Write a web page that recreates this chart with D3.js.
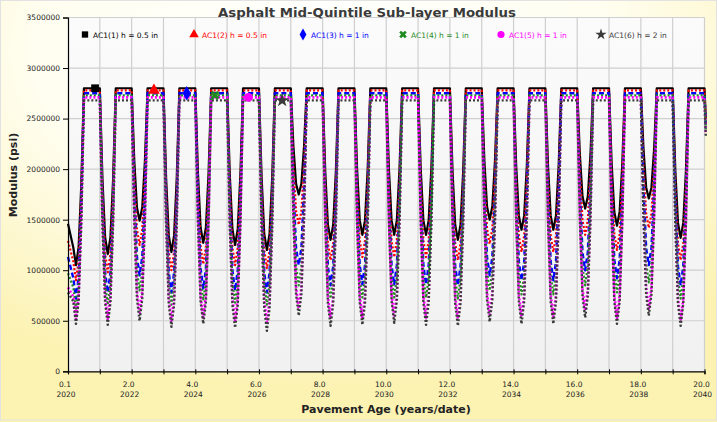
<!DOCTYPE html>
<html><head><meta charset="utf-8">
<script src="https://cdn.jsdelivr.net/npm/d3@7"></script>
<style>html,body{margin:0;padding:0;background:#fff}svg{display:block}</style>
</head><body>
<svg id="chart" width="717" height="422"></svg>
<script>
// ---------------- data ----------------
const chartTitle = "Asphalt Mid-Quintile Sub-layer Modulus";
const xTitle = "Pavement Age (years/date)";
const yTitle = "Modulus (psi)";
const seriesNames = ["AC1(1) h = 0.5  in", "AC1(2) h = 0.5  in", "AC1(3) h = 1  in", "AC1(4) h = 1  in", "AC1(5) h = 1  in", "AC1(6) h = 2  in"];
// value at first record, winter plateau, value at last record
const startValues = [1460000, 1290000, 1130000, 970000, 830000, 780000];
const capValues   = [2800000, 2780000, 2750000, 2730000, 2710000, 2680000];
const endValues   = [2500000, 2450000, 2400000, 2380000, 2350000, 2330000];
// summer trough of each year (years 0..19)
const troughAC1_1 = [1050000,1160000,1490000,1180000,1270000,1250000,1200000,1750000,1300000,1350000,1350000,1350000,1300000,1500000,1400000,1400000,1610000,1440000,1710000,1320000];
const troughAC1_2 = [900000,980000,1250000,1000000,1060000,1050000,1020000,1450000,1100000,1130000,1130000,1130000,1100000,1260000,1180000,1180000,1350000,1200000,1420000,1100000];
const troughAC1_3 = [720000,780000,950000,780000,820000,800000,780000,1050000,850000,860000,860000,860000,850000,950000,900000,900000,1000000,920000,1050000,850000];
const troughAC1_4 = [620000,660000,800000,660000,700000,680000,660000,850000,720000,730000,730000,730000,720000,800000,760000,760000,850000,780000,880000,720000];
const troughAC1_5 = [520000,520000,580000,500000,530000,500000,480000,620000,520000,530000,550000,530000,520000,560000,540000,540000,600000,530000,620000,500000];
const troughAC1_6 = [470000,460000,500000,440000,470000,430000,400000,550000,450000,460000,480000,460000,450000,490000,470000,470000,530000,470000,550000,450000];
// monthly position inside each summer dip (fraction of the way from plateau to trough)
const dipMonths = [0, 1, 2, 3, 4, 5, 6];
const dipDepth  = [0, 0.55, 0.9, 1, 0.9, 0.55, 0];
const markerAges = [0.85, 2.7, 3.73, 4.62, 5.67, 6.73];
const troughs = [troughAC1_1, troughAC1_2, troughAC1_3, troughAC1_4, troughAC1_5, troughAC1_6];
const endAge = 20.04;

const xTickValues = [0, 2, 4, 6, 8, 10, 12, 14, 16, 18, 20];
const xTickAgeLabels = ["0.1", "2.0", "4.0", "6.0", "8.0", "10.0", "12.0", "14.0", "16.0", "18.0", "20.0"];
const xTickYearLabels = ["2020", "2022", "2024", "2026", "2028", "2030", "2032", "2034", "2036", "2038", "2040"];
const yTickValues = [0, 500000, 1000000, 1500000, 2000000, 2500000, 3000000, 3500000];

// ---------------- styles ----------------
const colors = ["#000000", "#ff0000", "#0000ff", "#1f8a1f", "#ff00ff", "#3a3a3a"];
const dashes = [null, "2,2", "5,3", "2,2", "2,2", "2,2"];
const widths = [2.2, 2.2, 2.4, 2.2, 2.6, 2.4];
const symbols = [d3.symbolSquare, d3.symbolTriangle, d3.symbolDiamond, d3.symbolCross, d3.symbolCircle, d3.symbolStar];
const symbolRotate = [0, 0, 0, 45, 0, 0];

// ---------------- build table ----------------
const series = seriesNames.map((name, s) => {
  const cap = capValues[s];
  const pts = [{t: 0, v: startValues[s]}];
  troughs[s].forEach((tv, k) => {
    dipMonths.forEach((m, j) => {
      if (k === 0 && m < 2) return;       // record starts inside the first dip
      pts.push({t: k + m / 12, v: cap - dipDepth[j] * (cap - tv)});
    });
    pts.push({t: k + 1, v: cap});
  });
  pts.push({t: endAge, v: endValues[s]});
  return {name, pts, s};
});

// ---------------- layout ----------------
const svg = d3.select("#chart");
const W = 717, H = 422;
const L = 68, R = 704.5, T = 17.5, B = 371.3;
const x = d3.scaleLinear().domain([0, 20]).range([L, R]);
const y = d3.scaleLinear().domain([0, 3500000]).range([B, T]);

const defs = svg.append("defs");
const bg = defs.append("radialGradient").attr("id", "bg").attr("cx", "45%").attr("cy", "12%").attr("r", "80%");
bg.append("stop").attr("offset", "0%").attr("stop-color", "#ffffff");
bg.append("stop").attr("offset", "50%").attr("stop-color", "#fffef0");
bg.append("stop").attr("offset", "100%").attr("stop-color", "#fcf2b2");
const pg = defs.append("linearGradient").attr("id", "pg").attr("x1", 0).attr("y1", 0).attr("x2", 0).attr("y2", 1);
pg.append("stop").attr("offset", "0%").attr("stop-color", "#fbfbfb");
pg.append("stop").attr("offset", "100%").attr("stop-color", "#f1f1f1");

svg.append("rect").attr("width", W).attr("height", H).attr("fill", "url(#bg)");
svg.append("rect").attr("x", 0.5).attr("y", 0.5).attr("width", W - 1).attr("height", H - 2.5)
  .attr("fill", "none").attr("stroke", "#e2e2e2");
svg.append("rect").attr("x", L).attr("y", T).attr("width", R - L).attr("height", B - T).attr("fill", "url(#pg)");

// grid
const gridYears = d3.range(1, 21);
svg.append("g").selectAll("line").data(gridYears).join("line")
  .attr("x1", d => x(d)).attr("x2", d => x(d)).attr("y1", T).attr("y2", B)
  .attr("stroke", "#cfcfcf").attr("stroke-width", 1.2);
svg.append("g").selectAll("line").data(yTickValues.slice(1)).join("line")
  .attr("x1", L).attr("x2", R).attr("y1", d => y(d)).attr("y2", d => y(d))
  .attr("stroke", "#cfcfcf").attr("stroke-width", 1.2);

// title
svg.append("text").attr("x", 367).attr("y", 17).attr("text-anchor", "middle")
  .attr("font-family", "DejaVu Sans, Verdana, sans-serif").attr("font-weight", "bold").attr("font-size", 13)
  .attr("fill", "#3a3a3a").attr("textLength", 298).attr("lengthAdjust", "spacingAndGlyphs").text(chartTitle);

// lines
const line = d3.line().x(d => x(d.t)).y(d => y(d.v));
const gLines = svg.append("g");
series.forEach(sr => {
  gLines.append("path").attr("d", line(sr.pts)).attr("fill", "none")
    .attr("stroke", colors[sr.s]).attr("stroke-width", widths[sr.s])
    .attr("stroke-dasharray", dashes[sr.s]).attr("stroke-linejoin", "round");
});
// markers on curves
series.forEach(sr => {
  svg.append("path").attr("d", d3.symbol().type(symbols[sr.s]).size(sr.s === 3 ? 50 : 60)())
    .attr("transform", `translate(${x(markerAges[sr.s])},${y(capValues[sr.s])}) rotate(${symbolRotate[sr.s]})`)
    .attr("fill", colors[sr.s]);
});

// axes
const font = "DejaVu Sans, Verdana, sans-serif";
const yAxis = d3.axisLeft(y).tickValues(yTickValues).tickSize(5).tickFormat(d3.format("d"));
const gy = svg.append("g").attr("transform", `translate(${L},0)`).call(yAxis);
gy.select(".domain").attr("stroke", "#000").attr("stroke-width", 1.2);
gy.selectAll(".tick line").attr("stroke", "#000");
gy.selectAll(".tick text").attr("font-family", font).attr("font-size", 7.5).attr("fill", "#222").attr("x", -8);

const xAxis = d3.axisBottom(x).tickValues(d3.range(0, 21)).tickSize(3).tickFormat("");
const gx = svg.append("g").attr("transform", `translate(0,${B})`).call(xAxis);
gx.select(".domain").attr("stroke", "#000").attr("stroke-width", 1.2);
gx.selectAll(".tick line").attr("stroke", "#000").attr("y1", -2);

const gxl = svg.append("g");
xTickValues.forEach((v, i) => {
  gxl.append("text").attr("x", x(v) - 3).attr("y", 387).attr("text-anchor", "middle")
    .attr("font-family", font).attr("font-size", 7.5).attr("fill", "#222").text(xTickAgeLabels[i]);
  gxl.append("text").attr("x", x(v) - 2).attr("y", 397).attr("text-anchor", "middle")
    .attr("font-family", font).attr("font-size", 7.5).attr("fill", "#222").text(xTickYearLabels[i]);
});

svg.append("text").attr("x", 386).attr("y", 413).attr("text-anchor", "middle")
  .attr("font-family", font).attr("font-weight", "bold").attr("font-size", 11).attr("fill", "#222").text(xTitle);
svg.append("text").attr("transform", "translate(17,175) rotate(-90)").attr("text-anchor", "middle")
  .attr("font-family", font).attr("font-weight", "bold").attr("font-size", 11).attr("fill", "#222").text(yTitle);

// legend
const legendX = [85, 194, 303, 403, 501, 601];
const gLeg = svg.append("g");
series.forEach(sr => {
  const lx = legendX[sr.s];
  gLeg.append("path").attr("d", d3.symbol().type(symbols[sr.s]).size(sr.s === 3 ? 36 : 40)())
    .attr("transform", `translate(${lx},34.5) rotate(${symbolRotate[sr.s]})`).attr("fill", colors[sr.s]);
  gLeg.append("text").attr("x", lx + 8).attr("y", 37.5).attr("font-family", font).attr("font-size", 7.5)
    .attr("fill", colors[sr.s]).text(sr.name);
});
</script>
</body></html>
